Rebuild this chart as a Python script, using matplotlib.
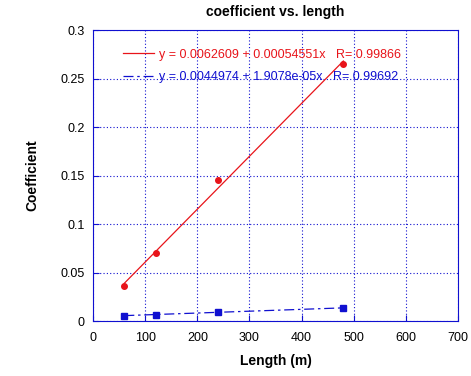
import numpy as np
import matplotlib.pyplot as plt

plt.rcParams['font.family'] = ['Liberation Sans', 'DejaVu Sans']

length = [60, 120, 240, 480]
coef_red = [0.036, 0.070, 0.145, 0.265]
coef_blue = [0.0055, 0.0065, 0.009, 0.0135]

fit_red = (0.0062609, 0.00054551, 0.99866)
fit_blue = (0.0044974, 1.9078e-05, 0.99692)

fig = plt.figure(figsize=(4.71, 3.76), dpi=100)
ax = fig.add_axes([0.1975, 0.146, 0.775, 0.774])

x = np.array(length)
ax.plot(x, fit_red[0] + fit_red[1] * x, color='#e8141a', lw=0.9,
        label='y = %g + %gx   R= %g' % fit_red)
ax.plot(x, fit_blue[0] + fit_blue[1] * x, color='#1010d0', lw=0.9,
        dashes=(8, 3, 2, 3),
        label='y = %g + %gx   R= %g' % fit_blue)
ax.plot(length, coef_red, 'o', color='#e8141a', ms=4)
ax.plot(length, coef_blue, 's', color='#1010d0', ms=4.5)

ax.set_xlim(0, 700)
ax.set_ylim(0, 0.3)
ax.set_xticks(range(0, 701, 100))
ax.set_yticks([0, 0.05, 0.1, 0.15, 0.2, 0.25, 0.3])
ax.set_yticklabels(['0', '0.05', '0.1', '0.15', '0.2', '0.25', '0.3'])
ax.grid(True, color='#1010d0', ls=(0, (1, 2)), lw=0.8)
for s in ax.spines.values():
    s.set_color('#1010d0')
ax.tick_params(direction='in', colors='#1010d0', labelcolor='black', labelsize=9, length=4)
ax.tick_params(axis='x', pad=8)
ax.tick_params(axis='y', pad=6)

ax.set_xlabel('Length (m)', fontsize=10, fontweight='bold', labelpad=7)
ax.set_ylabel('Coefficient', fontsize=10, fontweight='bold', labelpad=15)
ax.set_title('coefficient vs. length', fontsize=10, fontweight='bold', pad=10)

leg = ax.legend(loc='upper left', bbox_to_anchor=(0.05, 0.975), frameon=False,
                fontsize=9, handlelength=2.5, handletextpad=0.4, labelspacing=0.85,
                labelcolor='linecolor')

fig.savefig('out.png', dpi=100)
